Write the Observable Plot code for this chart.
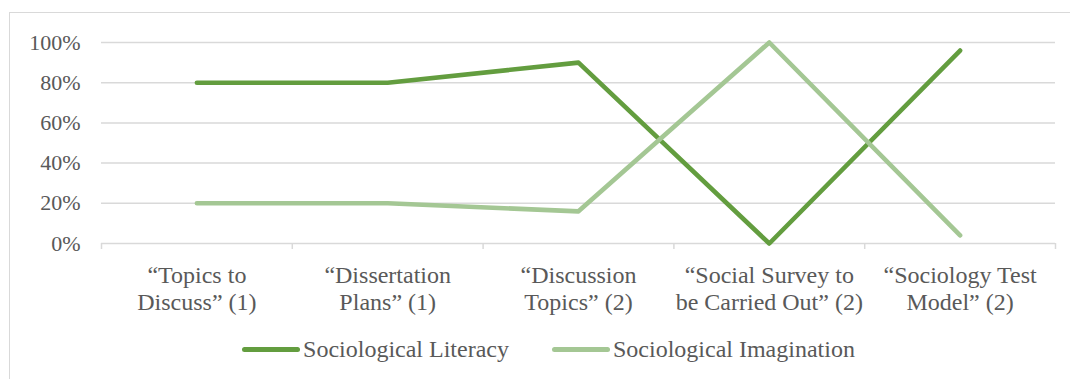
<!DOCTYPE html>
<html>
<head>
<meta charset="utf-8">
<script src="https://cdn.jsdelivr.net/npm/d3@7"></script>
<script src="https://cdn.jsdelivr.net/npm/@observablehq/plot@0.6"></script>
<style>
  html, body { margin: 0; padding: 0; background: #fff; }
  #wrap { position: relative; width: 1070px; height: 379px; overflow: hidden; font-family: "Liberation Serif", "Times New Roman", serif; }
  #frame { position: absolute; left: 9px; top: 12px; width: 1200px; height: 500px; border-top: 1.5px solid #d9d9d9; border-left: 1.5px solid #d9d9d9; }
  #chart { position: absolute; left: 0; top: 0; }
  #legend { position: absolute; left: 0; top: 334px; width: 1070px; display: flex; justify-content: center; gap: 43px; padding-left: 27px; box-sizing: border-box; font-size: 24px; line-height: 30px; color: #595959; }
  .item { display: flex; align-items: center; }
  .swatch { display: inline-block; width: 58px; height: 5px; border-radius: 3px; margin-right: 3px; }
</style>
</head>
<body>
<div id="wrap">
  <div id="frame"></div>
  <div id="chart"></div>
  <div id="legend"></div>
</div>
<script>
// Assignments shown along the x axis
const categories = [
  "\u201CTopics to\nDiscuss\u201D (1)",
  "\u201CDissertation\nPlans\u201D (1)",
  "\u201CDiscussion\nTopics\u201D (2)",
  "\u201CSocial Survey to\nbe Carried Out\u201D (2)",
  "\u201CSociology Test\nModel\u201D (2)"
];
// Share of each assignment, in percent
const literacy = [80, 80, 90, 0, 96];
const imagination = [20, 20, 16, 100, 4];
const seriesNames = ["Sociological Literacy", "Sociological Imagination"];
const colors = ["#639d3f", "#a4c794"];
const yTicks = [0, 0.2, 0.4, 0.6, 0.8, 1];

const rows = [];
categories.forEach((c, i) => {
  rows.push({series: seriesNames[0], i: i + 0.5, value: literacy[i] / 100});
  rows.push({series: seriesNames[1], i: i + 0.5, value: imagination[i] / 100});
});

const grey = "#d9d9d9";
const textColor = "#595959";

const chart = Plot.plot({
  width: 1070,
  height: 330,
  marginLeft: 101,
  marginRight: 15,
  marginTop: 42,
  marginBottom: 87,
  style: {fontFamily: "'Liberation Serif', 'Times New Roman', serif", fontSize: "24px", color: textColor, background: "transparent"},
  x: {domain: [0, categories.length], axis: null},
  y: {domain: [0, 1], axis: null},
  color: {domain: seriesNames, range: colors},
  marks: [
    Plot.gridY(yTicks, {stroke: grey, strokeOpacity: 1, strokeWidth: 1.5}),
    Plot.axisX(d3.range(categories.length + 1), {label: null, tickSize: 6, tickFormat: () => "", stroke: grey, strokeOpacity: 1, strokeWidth: 1.5}),
    Plot.axisX(categories.map((c, i) => i + 0.5), {
      label: null, tickSize: 0, tickPadding: 20, lineHeight: 1.125,
      tickFormat: (d) => categories[Math.floor(d)],
      fill: textColor, fontSize: 24
    }),
    Plot.axisY(yTicks, {label: null, tickSize: 0, tickPadding: 21, tickFormat: d3.format(".0%"), fill: textColor, fontSize: 22}),
    Plot.line(rows, {x: "i", y: "value", z: "series", stroke: "series", strokeWidth: 4.6, strokeLinecap: "round", strokeLinejoin: "round"})
  ]
});
document.getElementById("chart").appendChild(chart);

const legend = document.getElementById("legend");
seriesNames.forEach((name, k) => {
  const item = document.createElement("div");
  item.className = "item";
  const sw = document.createElement("span");
  sw.className = "swatch";
  sw.style.background = colors[k];
  item.appendChild(sw);
  item.appendChild(document.createTextNode(name));
  legend.appendChild(item);
});
</script>
</body>
</html>
